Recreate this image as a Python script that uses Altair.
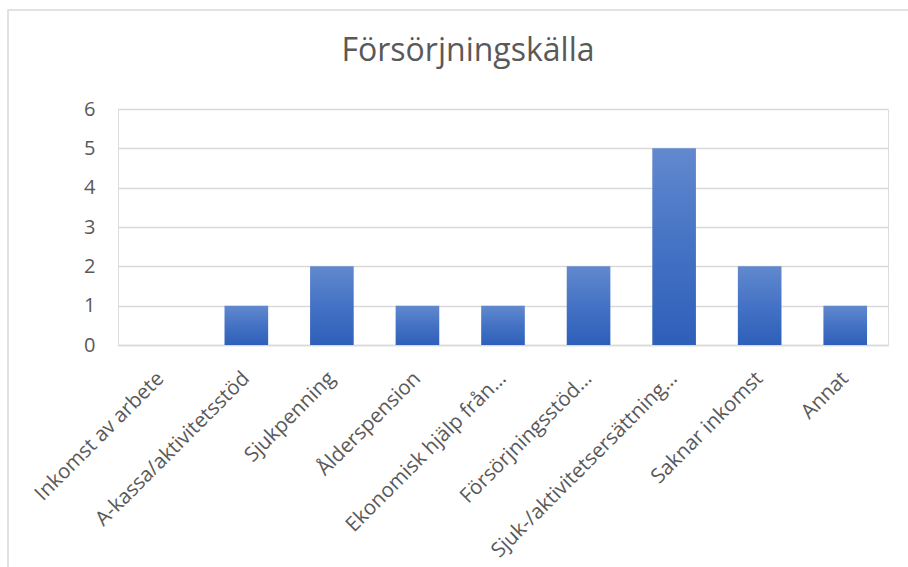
import altair as alt
import pandas as pd

kategorier = [
    "Inkomst av arbete",
    "A-kassa/aktivitetsstöd",
    "Sjukpenning",
    "Ålderspension",
    "Ekonomisk hjälp från…",
    "Försörjningsstöd…",
    "Sjuk-/aktivitetsersättning…",
    "Saknar inkomst",
    "Annat",
]
antal = [0, 1, 2, 1, 1, 2, 5, 2, 1]
y_ticks = [0, 1, 2, 3, 4, 5, 6]

df = pd.DataFrame({"kategori": kategorier, "antal": antal})

FONT = "Open Sans"
GREY = "#595959"

gradient = alt.Gradient(
    gradient="linear",
    stops=[
        alt.GradientStop(color="#6289ce", offset=0),
        alt.GradientStop(color="#4472c4", offset=0.5),
        alt.GradientStop(color="#2e5fb9", offset=1),
    ],
    x1=0, x2=0, y1=0, y2=1,
)

bars = alt.Chart(df).mark_bar(color=gradient).encode(
    x=alt.X(
        "kategori:N",
        sort=kategorier,
        scale=alt.Scale(paddingInner=0.49, paddingOuter=0.245),
        axis=alt.Axis(
            title=None,
            labelAngle=-45,
            labelAlign="right",
            labelBaseline="middle",
            labelPadding=30,
            ticks=False,
            domainColor="#d9d9d9",
            domainWidth=1.5,
            labelFont=FONT,
            labelFontSize=20.5,
            labelColor=GREY,
            labelLimit=0,
        ),
    ),
    y=alt.Y(
        "antal:Q",
        scale=alt.Scale(domain=[0, 6], nice=False),
        axis=alt.Axis(
            title=None,
            values=y_ticks,
            domain=False,
            ticks=False,
            labelPadding=23,
            labelFont=FONT,
            labelFontSize=20,
            labelColor=GREY,
            gridColor="#d9d9d9",
            gridWidth=1.5,
        ),
    ),
    tooltip=["kategori", "antal"],
)

frame = alt.Chart(pd.DataFrame({"a": [0]})).mark_rect(
    filled=False, stroke="#d9d9d9", strokeWidth=1.5
).encode(
    x=alt.value(-110), x2=alt.value(820), y=alt.value(-99), y2=alt.value(480)
)

chart = alt.layer(frame, bars).properties(
    width=770,
    height=236,
    autosize=alt.AutoSizeParams(type="none"),
    padding={"left": 118, "top": 109, "right": 20, "bottom": 222},
    title=alt.TitleParams(
        "Försörjningskälla",
        font=FONT,
        fontSize=32,
        fontWeight="normal",
        color=GREY,
        anchor="middle",
        frame="group",
        baseline="alphabetic",
        offset=-84,
        dx=-35,
    ),
).configure_view(stroke=None).configure(background="white")

chart.save("out.html", embed_options={"renderer": "svg", "actions": False})
